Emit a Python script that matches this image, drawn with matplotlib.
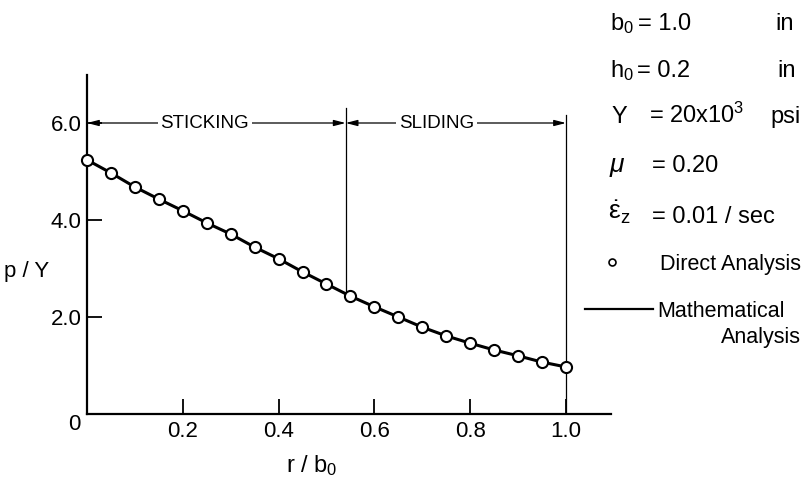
import matplotlib
matplotlib.use("Agg")
import matplotlib.pyplot as plt
import numpy as np

plt.rcParams['font.family'] = ['Liberation Sans', 'DejaVu Sans']
plt.rcParams['mathtext.default'] = 'regular'

# data
r_over_b = [0.0, 0.05, 0.10, 0.15, 0.20, 0.25, 0.30, 0.35, 0.40, 0.45, 0.50,
            0.55, 0.60, 0.65, 0.70, 0.75, 0.80, 0.85, 0.90, 0.95, 1.0]
p_over_Y = [5.24, 4.97, 4.68, 4.43, 4.19, 3.94, 3.71, 3.44, 3.20, 2.93, 2.68,
            2.43, 2.21, 2.00, 1.79, 1.61, 1.46, 1.32, 1.20, 1.07, 0.97]
x_ticks = [0.2, 0.4, 0.6, 0.8, 1.0]
x_labels = ["0.2", "0.4", "0.6", "0.8", "1.0"]
y_ticks = [2.0, 4.0, 6.0]
y_labels = ["2.0", "4.0", "6.0"]
r_transition = 0.54
zone_names = ["STICKING", "SLIDING"]

W, H = 809, 484
fig = plt.figure(figsize=(W / 100, H / 100), dpi=100)

def px(x, y):
    # pixel coords (top-left origin) -> figure fraction
    return x / W, 1 - y / H

ax = fig.add_axes([87 / W, (H - 414) / H, (611 - 87) / W, (414 - 74.5) / H])
ax.set_xlim(0, 1.094)
ax.set_ylim(0, 7.0)

for side in ['top', 'right']:
    ax.spines[side].set_visible(False)
for side in ['left', 'bottom']:
    ax.spines[side].set_linewidth(1.6)

ax.set_xticks(x_ticks)
ax.set_xticklabels(x_labels)
ax.set_yticks(y_ticks)
ax.set_yticklabels(y_labels)
ax.tick_params(axis='both', direction='in', length=11, width=1.3,
               labelsize=16)
ax.tick_params(axis='x', pad=5)
ax.tick_params(axis='y', pad=4)

# mathematical analysis + direct analysis points
ax.plot(r_over_b, p_over_Y, color='black', lw=2.2, zorder=3,
        marker='o', markersize=8, markerfacecolor='white',
        markeredgecolor='black', markeredgewidth=1.5, clip_on=False)

# zone dividers
y_at_trans = np.interp(r_transition, r_over_b, p_over_Y)
ax.plot([r_transition, r_transition], [y_at_trans, 6.31], color='black', lw=0.9, zorder=2)
ax.plot([1.0, 1.0], [0, 6.16], color='black', lw=0.9, zorder=2)

# dimension arrows
arrow = dict(arrowstyle='<|-|>,head_length=0.7,head_width=0.18',
             color='black', lw=0.9, shrinkA=0, shrinkB=0)
ax.annotate('', xy=(0, 6.0), xytext=(r_transition, 6.0), arrowprops=arrow, zorder=2)
ax.annotate('', xy=(r_transition, 6.0), xytext=(1.0, 6.0), arrowprops=arrow, zorder=2)
box = dict(facecolor='white', edgecolor='none', pad=2)
ax.text(0.246, 6.0, zone_names[0], ha='center', va='center', fontsize=13.5,
        bbox=box, zorder=4)
ax.text(0.729, 6.0, zone_names[1], ha='center', va='center', fontsize=13.5,
        bbox=box, zorder=4)

# axis titles
fig.text(*px(74, 424), "0", ha='center', va='center', fontsize=16)
fig.text(*px(27, 272), "p / Y", ha='center', va='center', fontsize=16)
fig.text(*px(312, 466), "r / b$_0$", ha='center', va='center', fontsize=17)

# parameter block on the right
fs = 17
fig.text(*px(610, 30), "b$_0$", fontsize=fs, va='baseline')
fig.text(*px(638, 30), "= 1.0", fontsize=fs, va='baseline')
fig.text(*px(775, 30), "in", fontsize=fs, va='baseline')
fig.text(*px(610, 77), "h$_0$", fontsize=fs, va='baseline')
fig.text(*px(637, 77), "= 0.2", fontsize=fs, va='baseline')
fig.text(*px(777, 77), "in", fontsize=fs, va='baseline')
fig.text(*px(612, 123), "Y", fontsize=fs, va='baseline')
fig.text(*px(649, 123), "= 20x10$^3$", fontsize=fs, va='baseline')
fig.text(*px(770, 123), "psi", fontsize=fs, va='baseline')
fig.text(*px(610, 172), "μ", fontsize=fs + 2, va='baseline', style='italic')
fig.text(*px(652, 172), "= 0.20", fontsize=fs, va='baseline')
fig.text(*px(608, 220), r"$\dot{\varepsilon}_z$", fontsize=fs + 2, va='baseline')
fig.text(*px(652, 223), "= 0.01 / sec", fontsize=fs, va='baseline')

# legend drawn by hand
fig.add_artist(plt.Line2D([612 / W], [1 - 262 / H], marker='o', markersize=5,
                          markerfacecolor='white', markeredgecolor='black',
                          markeredgewidth=1.2, transform=fig.transFigure))
fig.text(*px(660, 270), "Direct Analysis", fontsize=15.5, va='baseline')
fig.add_artist(plt.Line2D([585 / W, 653 / W], [1 - 309 / H, 1 - 309 / H],
                          color='black', lw=1.6, transform=fig.transFigure))
fig.text(*px(657, 317), "Mathematical", fontsize=15.5, va='baseline')
fig.text(*px(801, 343), "Analysis", fontsize=15.5, va='baseline', ha='right')

fig.savefig('out.png', dpi=100)
